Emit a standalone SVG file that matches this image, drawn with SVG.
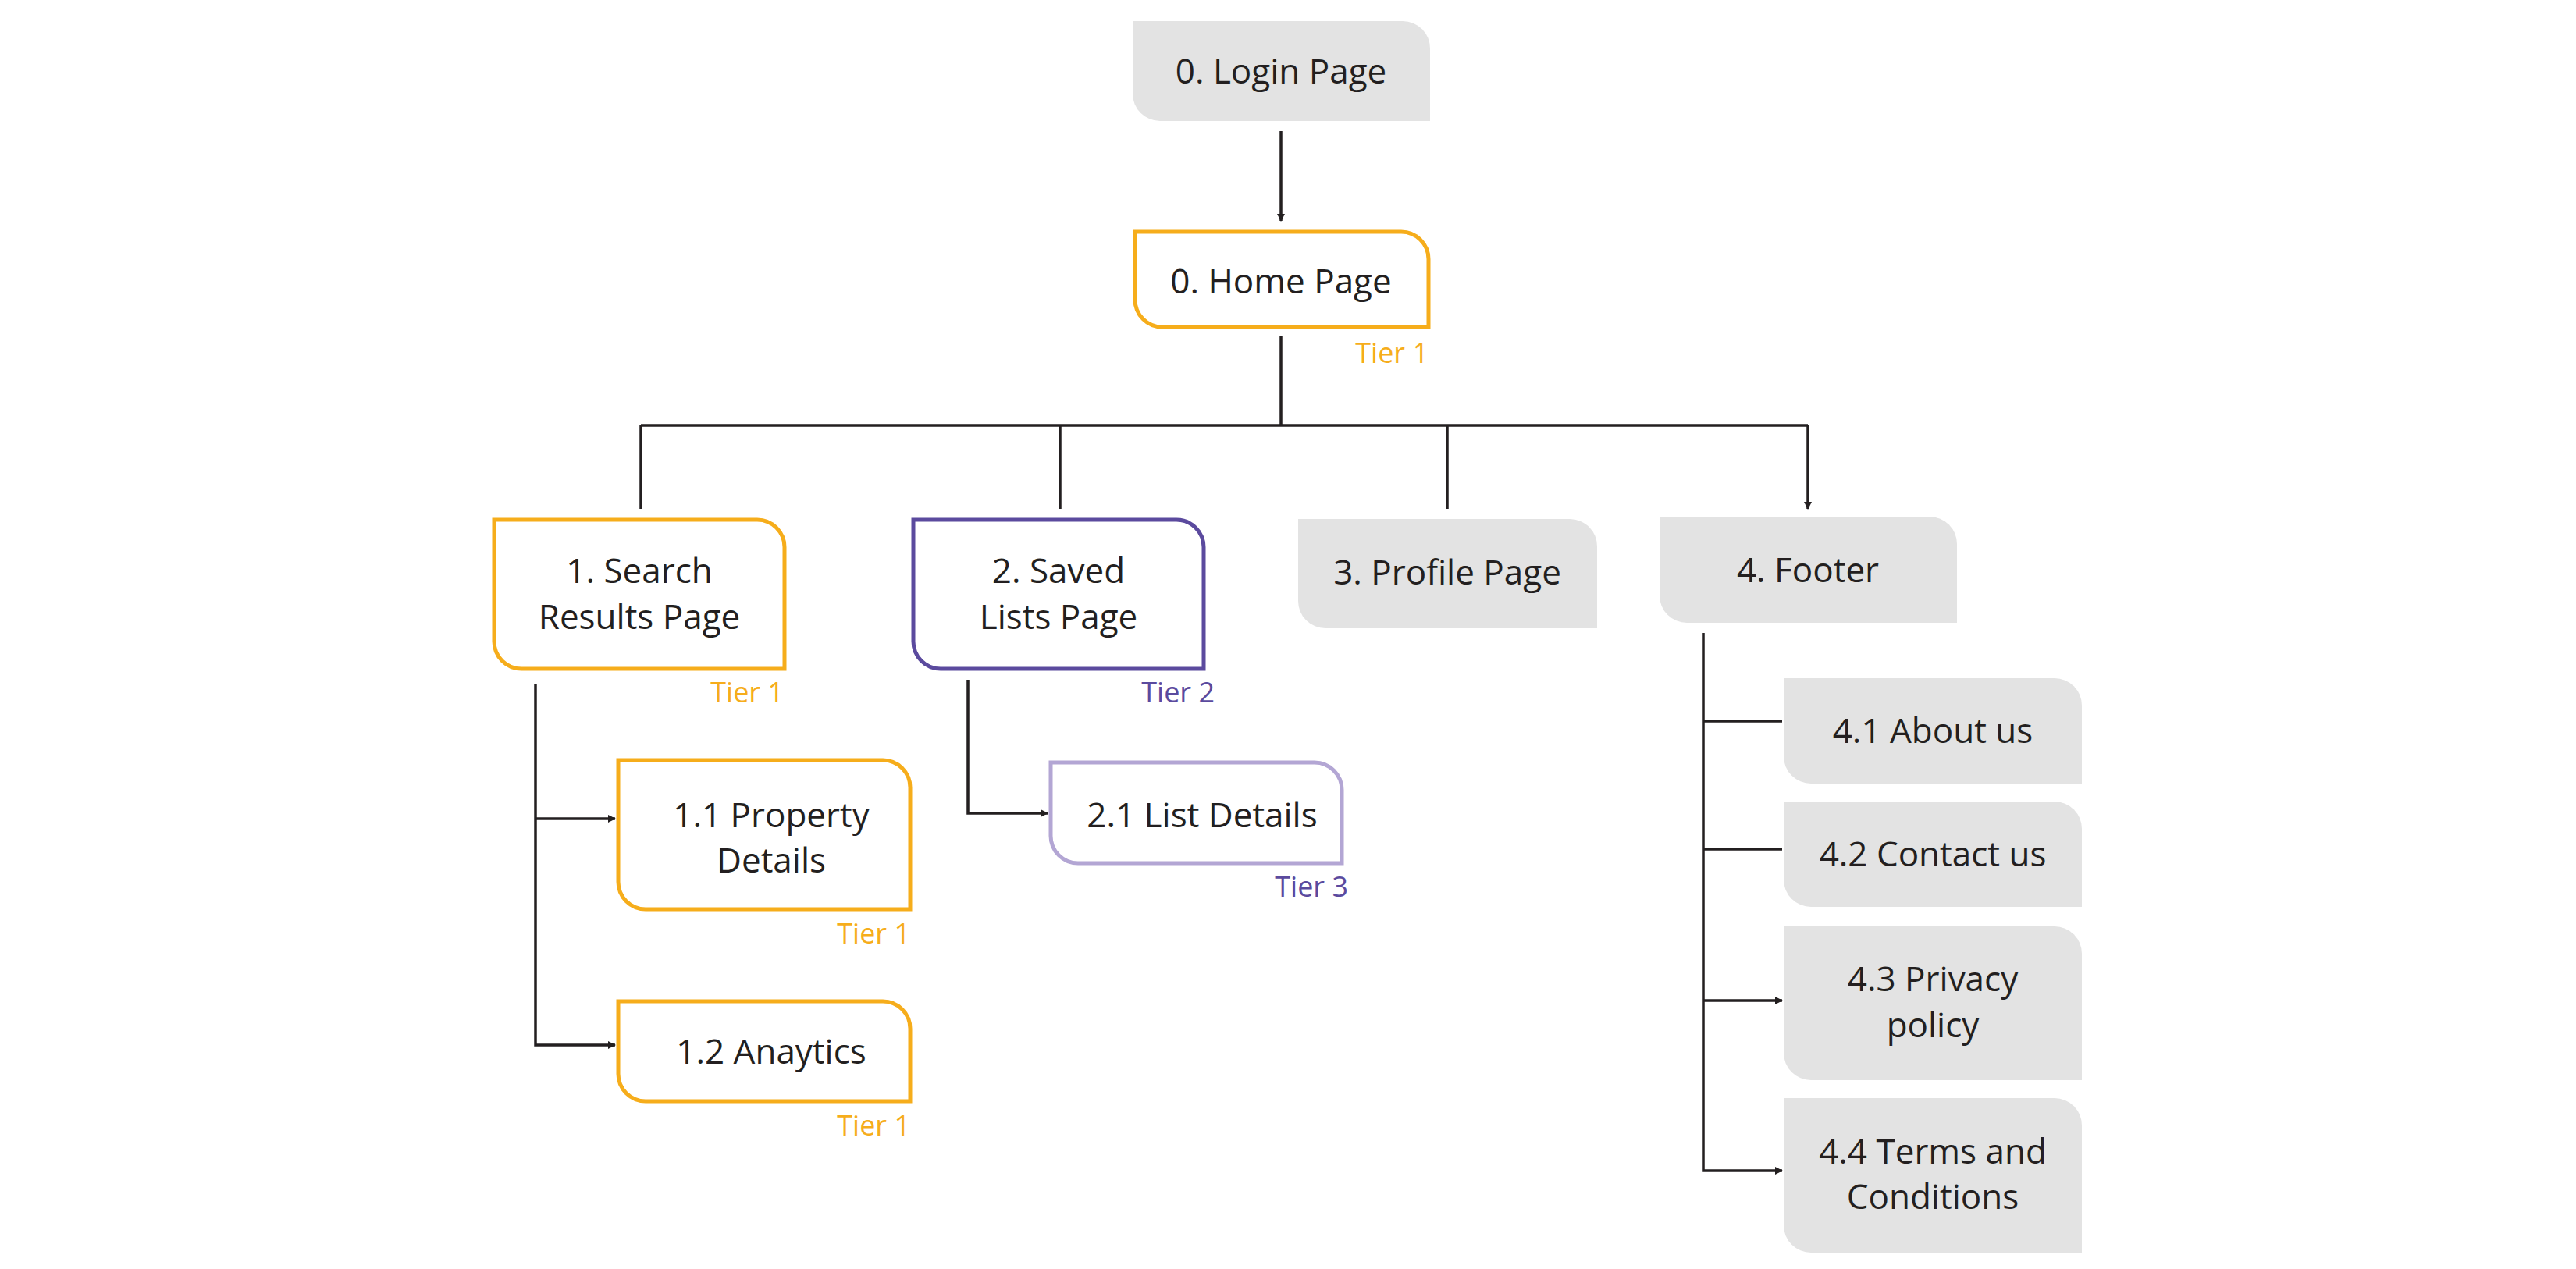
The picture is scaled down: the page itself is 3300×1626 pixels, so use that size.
<svg xmlns="http://www.w3.org/2000/svg" width="3300" height="1626" viewBox="0 0 3300 1626">
<style>
.g{fill:#E3E3E3}
.o{fill:#fff;stroke:#F6AD1B;stroke-width:5}
.p{fill:#fff;stroke:#5B4A9E;stroke-width:5}
.lp{fill:#fff;stroke:#B3A6D4;stroke-width:5}
text{font-family:"Open Sans","Liberation Sans",sans-serif;font-size:44px;fill:#231F20;text-anchor:middle}
.t{font-size:36px;text-anchor:end}
.to{fill:#F6AD1B}.tp{fill:#5B4A9E}
.c{fill:none;stroke:#231F20;stroke-width:3.5}
</style>
<defs><marker id="a" markerWidth="10" markerHeight="10" refX="9" refY="5" orient="auto" markerUnits="userSpaceOnUse" viewBox="0 0 10 10"><path d="M0,0L10,5L0,10Z" fill="#231F20"/></marker></defs>
<g id="connectors">
<path class="c" d="M1641,168V283" marker-end="url(#a)"/>
<path class="c" d="M1641,430V545M821,545H2316"/>
<path class="c" d="M821,545V652M1358,545V652M1854,545V652M2316,545V652" marker-end="url(#a)"/>
<path class="c" d="M686,876V1339H788" marker-end="url(#a)"/>
<path class="c" d="M686,1049H788" marker-end="url(#a)"/>
<path class="c" d="M1240,871V1042H1342" marker-end="url(#a)"/>
<path class="c" d="M2182,811V1500H2283" marker-end="url(#a)"/>
<path class="c" d="M2182,924H2283M2182,1088H2283M2182,1282H2283" marker-end="url(#a)"/>
</g>
<g id="login"><path class="g" d="M1451,27H1797A35,35 0 0 1 1832,62V155H1486A35,35 0 0 1 1451,120Z"/><text x="1641" y="107">0. Login Page</text></g>
<g id="home"><path class="o" d="M1454,297H1795A35,35 0 0 1 1830,332V419H1489A35,35 0 0 1 1454,384Z"/><text x="1641" y="376">0. Home Page</text><text class="t to" x="1830" y="465">Tier 1</text></g>
<g id="search"><path class="o" d="M633,666H970A35,35 0 0 1 1005,701V857H668A35,35 0 0 1 633,822Z"/><text x="819" y="747">1. Search</text><text x="819" y="806">Results Page</text><text class="t to" x="1004" y="900">Tier 1</text></g>
<g id="saved"><path class="p" d="M1170,666H1507A35,35 0 0 1 1542,701V857H1205A35,35 0 0 1 1170,822Z"/><text x="1356" y="747">2. Saved</text><text x="1356" y="806">Lists Page</text><text class="t tp" x="1556" y="900">Tier 2</text></g>
<g id="profile"><path class="g" d="M1663,665H2011A35,35 0 0 1 2046,700V805H1698A35,35 0 0 1 1663,770Z"/><text x="1854" y="749">3. Profile Page</text></g>
<g id="footer"><path class="g" d="M2126,662H2472A35,35 0 0 1 2507,697V798H2161A35,35 0 0 1 2126,763Z"/><text x="2316" y="746">4. Footer</text></g>
<g id="prop"><path class="o" d="M792,974H1131A35,35 0 0 1 1166,1009V1165H827A35,35 0 0 1 792,1130Z"/><text x="988" y="1060">1.1 Property</text><text x="988" y="1118">Details</text><text class="t to" x="1166" y="1209">Tier 1</text></g>
<g id="analytics"><path class="o" d="M792,1283H1131A35,35 0 0 1 1166,1318V1411H827A35,35 0 0 1 792,1376Z"/><text x="988" y="1363">1.2 Anaytics</text><text class="t to" x="1166" y="1455">Tier 1</text></g>
<g id="listdetails"><path class="lp" d="M1346,977H1684A35,35 0 0 1 1719,1012V1106H1381A35,35 0 0 1 1346,1071Z"/><text x="1540" y="1060">2.1 List Details</text><text class="t tp" x="1727" y="1149">Tier 3</text></g>
<g id="about"><path class="g" d="M2285,869H2632A35,35 0 0 1 2667,904V1004H2320A35,35 0 0 1 2285,969Z"/><text x="2476" y="952">4.1 About us</text></g>
<g id="contact"><path class="g" d="M2285,1027H2632A35,35 0 0 1 2667,1062V1162H2320A35,35 0 0 1 2285,1127Z"/><text x="2476" y="1110">4.2 Contact us</text></g>
<g id="privacy"><path class="g" d="M2285,1187H2632A35,35 0 0 1 2667,1222V1384H2320A35,35 0 0 1 2285,1349Z"/><text x="2476" y="1270">4.3 Privacy</text><text x="2476" y="1329">policy</text></g>
<g id="terms"><path class="g" d="M2285,1407H2632A35,35 0 0 1 2667,1442V1605H2320A35,35 0 0 1 2285,1570Z"/><text x="2476" y="1491">4.4 Terms and</text><text x="2476" y="1549">Conditions</text></g>
</svg>
